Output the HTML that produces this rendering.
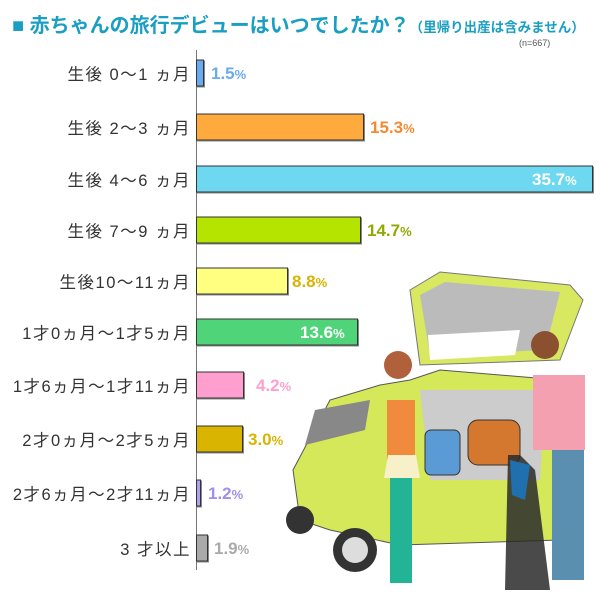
<!DOCTYPE html>
<html><head><meta charset="utf-8"><style>
body{margin:0;background:#fff;width:600px;height:608px;overflow:hidden;position:relative;font-family:"Liberation Sans","Noto Sans CJK JP",sans-serif}
.t{position:absolute;left:12px;top:9px;font-size:20px;font-weight:bold;color:#1a9fc3;white-space:nowrap}
.t small{font-size:13.5px}
.n{position:absolute;left:519px;top:38px;font-size:9px;color:#555}
.ax{position:absolute;left:196px;top:50px;width:1px;height:520px;background:#777}
.lab{position:absolute;right:409px;font-size:16.5px;color:#333;white-space:nowrap;transform:translateY(-50%);letter-spacing:1.5px}
.bar{position:absolute;left:196px;height:27px;border:1px solid #333;box-sizing:border-box;box-shadow:1px 1px 0 #888;transform:translateY(-50%)}
.v{position:absolute;font-size:17px;font-weight:bold;transform:translateY(-50%);white-space:nowrap}
.v span{font-size:13px}
</style></head><body>
<div class="t">■ 赤ちゃんの旅行デビューはいつでしたか？<small>（里帰り出産は含みません）</small></div>
<div class="n">(n=667)</div>
<svg style="position:absolute;left:0;top:0" width="600" height="608">
<polygon points="410,290 440,272 570,285 583,300 560,360 420,365" fill="#d8e860" stroke="#777"/>
<polygon points="420,295 445,282 560,292 545,350 430,355" fill="#bbb"/>
<polygon points="428,335 520,330 515,355 430,360" fill="#fff"/>
<polygon points="293,470 330,400 380,385 410,380 440,370 560,380 565,460 560,540 400,545 330,530 300,520" fill="#d4e85a" stroke="#555"/>
<polygon points="420,390 545,390 540,480 430,480" fill="#ccc"/>
<rect x="425" y="430" width="35" height="45" rx="6" fill="#5b9bd5" stroke="#333"/>
<rect x="468" y="420" width="52" height="45" rx="10" fill="#d3782e" stroke="#333"/>
<polygon points="315,410 370,400 365,430 305,445" fill="#888"/>
<circle cx="355" cy="550" r="22" fill="#333"/><circle cx="355" cy="550" r="13" fill="#ddd"/>
<circle cx="300" cy="520" r="14" fill="#333"/>
<circle cx="398" cy="365" r="14" fill="#b0603a"/>
<rect x="387" y="400" width="28" height="60" fill="#f08a3c"/>
<polygon points="388,455 416,455 420,478 384,478" fill="#f8f0c8"/>
<rect x="390" y="478" width="22" height="105" fill="#22b495"/>
<circle cx="545" cy="345" r="14" fill="#8a5030"/>
<rect x="533" y="375" width="52" height="75" fill="#f4a0b0"/>
<rect x="552" y="450" width="32" height="130" fill="#5b8fb0"/>
<polygon points="508,455 520,455 535,470 550,590 505,590" fill="#2a2a2a" opacity=".85"/>
<polygon points="510,460 530,465 525,500 512,495" fill="#2070b0"/>
</svg>
<div class="ax"></div>
<div class="lab" style="top:73px">生後 0〜1 ヵ月</div>
<div class="lab" style="top:127px">生後 2〜3 ヵ月</div>
<div class="lab" style="top:179px">生後 4〜6 ヵ月</div>
<div class="lab" style="top:230px">生後 7〜9 ヵ月</div>
<div class="lab" style="top:281px">生後10〜11ヵ月</div>
<div class="lab" style="top:332px">1才0ヵ月〜1才5ヵ月</div>
<div class="lab" style="top:385px">1才6ヵ月〜1才11ヵ月</div>
<div class="lab" style="top:439px">2才0ヵ月〜2才5ヵ月</div>
<div class="lab" style="top:493px">2才6ヵ月〜2才11ヵ月</div>
<div class="lab" style="top:548px">3 才以上</div>

<div class="bar" style="top:73px;width:8px;background:#6aaaf0"></div>
<div class="v" style="top:74px;left:211px;color:#6aaaf0">1.5<span>%</span></div>
<div class="bar" style="top:127px;width:168px;background:#ffaa3c"></div>
<div class="v" style="top:128px;left:370px;color:#f58a30">15.3<span>%</span></div>
<div class="bar" style="top:179px;width:397px;background:#6dd8ef"></div>
<div class="v" style="top:180px;left:532px;color:#fff">35.7<span>%</span></div>
<div class="bar" style="top:230px;width:165px;background:#b5e400"></div>
<div class="v" style="top:231px;left:367px;color:#8faa00">14.7<span>%</span></div>
<div class="bar" style="top:281px;width:92px;background:#ffff80"></div>
<div class="v" style="top:282px;left:292px;color:#d9b400">8.8<span>%</span></div>
<div class="bar" style="top:332px;width:162px;background:#4fd47a"></div>
<div class="v" style="top:333px;left:300px;color:#fff">13.6<span>%</span></div>
<div class="bar" style="top:385px;width:48px;background:#ff9fcf"></div>
<div class="v" style="top:386px;left:256px;color:#ff9fcf">4.2<span>%</span></div>
<div class="bar" style="top:439px;width:47px;background:#d9b400"></div>
<div class="v" style="top:440px;left:248px;color:#d9b400">3.0<span>%</span></div>
<div class="bar" style="top:493px;width:5px;background:#b0a0f0"></div>
<div class="v" style="top:494px;left:208px;color:#a090e8">1.2<span>%</span></div>
<div class="bar" style="top:548px;width:12px;background:#aaa"></div>
<div class="v" style="top:549px;left:214px;color:#aaa">1.9<span>%</span></div>
</body></html>
